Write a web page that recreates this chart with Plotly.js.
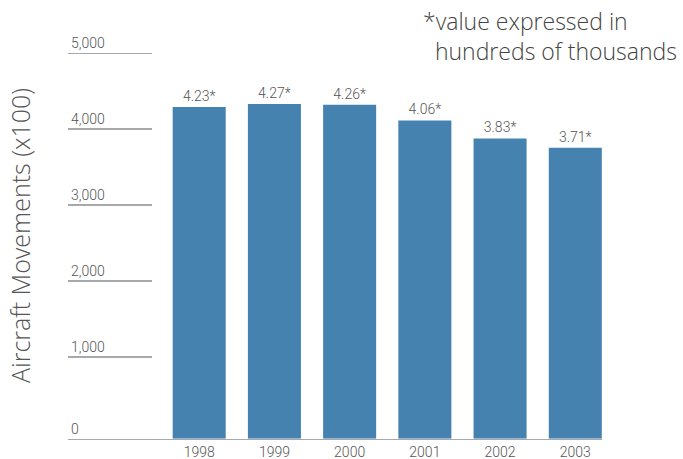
<!DOCTYPE html>
<html>
<head>
<meta charset="utf-8">
<script src="https://cdn.plot.ly/plotly-3.0.1.min.js"></script>
<style>html,body{margin:0;padding:0;background:#fff;}#chart{width:683px;height:459px;}</style>
</head>
<body>
<div id="chart"></div>
<script>
// Data
const years = ["1998", "1999", "2000", "2001", "2002", "2003"];
const movements = [4230, 4270, 4260, 4060, 3830, 3710]; // aircraft movements (x100)
const gridTicks = [1000, 2000, 3000, 4000, 5000];
const gridTickText = ["1,000", "2,000", "3,000", "4,000", "5,000"];
const yTitle = "Aircraft Movements (x100)";
const noteText = "*value expressed in<br>\u00a0\u00a0hundreds of thousands";

const labels = movements.map(v => (v / 1000).toFixed(2) + "*");
const font = {family: "Roboto, 'Liberation Sans', sans-serif", weight: 300, color: "#555"};
const wideFont = {family: "'Open Sans', 'Liberation Sans', sans-serif", weight: 300, color: "#444"};
const lineColor = "#a6a8aa";

const traces = [
  {
    type: "bar",
    x: years,
    y: movements,
    xaxis: "x",
    yaxis: "y",
    marker: {color: "#4682b0"},
    text: labels,
    textposition: "outside",
    cliponaxis: false,
    textfont: Object.assign({}, font, {size: 14, color: "#555"}),
    hoverinfo: "skip",
    showlegend: false
  },
  {
    type: "scatter",
    x: [],
    y: [],
    xaxis: "x2",
    yaxis: "y2",
    showlegend: false,
    hoverinfo: "skip"
  }
];

const layout = {
  width: 683,
  height: 459,
  margin: {l: 0, r: 0, t: 0, b: 0},
  paper_bgcolor: "#fff",
  plot_bgcolor: "rgba(0,0,0,0)",
  font: font,
  bargap: 0.295,
  showlegend: false,
  xaxis: {
    domain: [152 / 683, 602 / 683],
    type: "category",
    range: [-0.6275, 5.355],
    anchor: "y",
    showline: true,
    linecolor: lineColor,
    linewidth: 1.5,
    showgrid: false,
    zeroline: false,
    ticks: "",
    tickfont: Object.assign({}, font, {size: 14, color: "#555"}),
    fixedrange: true
  },
  xaxis2: {
    domain: [68 / 683, 152 / 683],
    range: [0, 1],
    anchor: "y2",
    showline: true,
    linecolor: lineColor,
    linewidth: 1.5,
    showgrid: false,
    zeroline: false,
    showticklabels: false,
    ticks: "",
    fixedrange: true
  },
  yaxis: {
    domain: [20.3 / 459, 1],
    range: [0, 5596],
    anchor: "x2",
    showline: false,
    showgrid: false,
    zeroline: false,
    tickvals: [0],
    ticktext: ["0"],
    ticks: "",
    ticklabelposition: "inside top",
    tickfont: Object.assign({}, font, {size: 14, color: "#555"}),
    fixedrange: true
  },
  yaxis2: {
    overlaying: "y",
    range: [-76, 5702],
    anchor: "x2",
    side: "left",
    showline: false,
    showgrid: true,
    gridcolor: lineColor,
    gridwidth: 1.5,
    zeroline: false,
    tickvals: gridTicks,
    ticktext: gridTickText,
    ticks: "",
    ticklabelposition: "inside top",
    tickfont: Object.assign({}, font, {size: 14, color: "#555"}),
    fixedrange: true
  },
  annotations: [
    {
      xref: "paper",
      yref: "paper",
      x: 20 / 683,
      y: 1 - 236 / 459,
      xanchor: "center",
      yanchor: "middle",
      textangle: -90,
      showarrow: false,
      text: yTitle,
      font: Object.assign({}, wideFont, {size: 25, color: "#555"})
    },
    {
      xref: "paper",
      yref: "paper",
      x: 421 / 683,
      y: 1 - 3 / 459,
      xanchor: "left",
      yanchor: "top",
      align: "left",
      showarrow: false,
      text: noteText,
      font: Object.assign({}, wideFont, {size: 23})
    }
  ]
};

Plotly.newPlot("chart", traces, layout, {displayModeBar: false, staticPlot: true});
</script>
</body>
</html>
